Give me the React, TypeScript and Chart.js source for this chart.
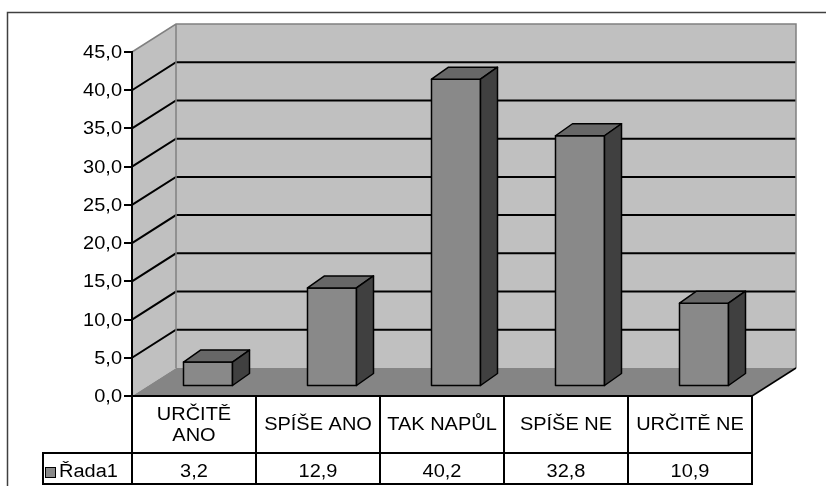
import React, { useEffect, useRef } from "react";
import { Chart, registerables } from "chart.js";

Chart.register(...registerables);

// ---- data ----
const categories: string[][] = [["URČITĚ", "ANO"], ["SPÍŠE ANO"], ["TAK NAPŮL"], ["SPÍŠE NE"], ["URČITĚ NE"]];
const values: number[] = [3.2, 12.9, 40.2, 32.8, 10.9];
const seriesName = "Řada1";
const yMin = 0;
const yMax = 45;
const yStep = 5;

// ---- style / layout ----
const W = 826;
const H = 486;
const DEPTH_X = 44;
const DEPTH_Y = -28;
const BAR_FRONT_X = 14;
const BAR_FRONT_Y = -9.5;
const BAR_DX = 17;
const BAR_DY = -12;
const FONT = '18px "Liberation Sans", Arial, sans-serif';
const STRETCH = 1.11;

const fmt = (v: number) => v.toFixed(1).replace(".", ",");

function drawText(ctx: CanvasRenderingContext2D, s: string, x: number, y: number, align: CanvasTextAlign) {
  ctx.save();
  ctx.translate(x, y);
  ctx.scale(STRETCH, 1);
  ctx.font = FONT;
  ctx.fillStyle = "#000";
  ctx.textAlign = align;
  ctx.textBaseline = "alphabetic";
  ctx.fillText(s, 0, 0);
  ctx.restore();
}

function poly(ctx: CanvasRenderingContext2D, pts: number[][], fill: string) {
  ctx.beginPath();
  ctx.moveTo(pts[0][0], pts[0][1]);
  for (let i = 1; i < pts.length; i++) ctx.lineTo(pts[i][0], pts[i][1]);
  ctx.closePath();
  ctx.fillStyle = fill;
  ctx.fill();
  ctx.stroke();
}

const excel3d = {
  id: "excel3d",
  beforeDraw(chart: any) {
    const ctx: CanvasRenderingContext2D = chart.ctx;
    const { left, right, top, bottom } = chart.chartArea;
    const ys = chart.scales.y;
    ctx.save();
    ctx.fillStyle = "#fff";
    ctx.fillRect(0, 0, W, H);
    ctx.strokeStyle = "#404040";
    ctx.lineWidth = 1.5;
    ctx.strokeRect(7.5, 12.5, W + 20, H + 20);

    const bx0 = left + DEPTH_X, bx1 = right + DEPTH_X, by0 = top + DEPTH_Y, by1 = bottom + DEPTH_Y;
    ctx.fillStyle = "#c0c0c0";
    ctx.fillRect(bx0, by0, bx1 - bx0, by1 - by0);
    ctx.beginPath();
    ctx.moveTo(left, top);
    ctx.lineTo(bx0, by0);
    ctx.lineTo(bx0, by1);
    ctx.lineTo(left, bottom);
    ctx.closePath();
    ctx.fill();

    ctx.fillStyle = "#858585";
    ctx.beginPath();
    ctx.moveTo(left, bottom);
    ctx.lineTo(bx0, by1);
    ctx.lineTo(bx1, by1);
    ctx.lineTo(right, bottom);
    ctx.closePath();
    ctx.fill();

    ctx.strokeStyle = "#000";
    ctx.lineWidth = 2;
    ys.ticks.forEach((t: any) => {
      if (t.value <= yMin || t.value >= yMax) return;
      const py = ys.getPixelForValue(t.value);
      ctx.beginPath();
      ctx.moveTo(left, py);
      ctx.lineTo(bx0, py + DEPTH_Y);
      ctx.lineTo(bx1, py + DEPTH_Y);
      ctx.stroke();
    });

    ctx.strokeStyle = "#808080";
    ctx.lineWidth = 1.5;
    ctx.beginPath();
    ctx.moveTo(left, top);
    ctx.lineTo(bx0, by0);
    ctx.lineTo(bx1, by0);
    ctx.lineTo(bx1, by1);
    ctx.moveTo(bx0, by0);
    ctx.lineTo(bx0, by1);
    ctx.stroke();

    ctx.strokeStyle = "#000";
    ctx.beginPath();
    ctx.moveTo(bx1, by1);
    ctx.lineTo(right, bottom);
    ctx.stroke();
    ctx.restore();
  },
  afterDatasetsDraw(chart: any) {
    const ctx: CanvasRenderingContext2D = chart.ctx;
    const meta = chart.getDatasetMeta(0);
    ctx.save();
    ctx.lineWidth = 1.5;
    ctx.strokeStyle = "#000";
    ctx.lineJoin = "round";
    meta.data.forEach((el: any) => {
      const { x, y, base, width } = el.getProps(["x", "y", "base", "width"], true);
      const L = x - width / 2 + BAR_FRONT_X;
      const R = x + width / 2 + BAR_FRONT_X;
      const T = y + BAR_FRONT_Y;
      const B = base + BAR_FRONT_Y;
      poly(ctx, [[L, T], [R, T], [R, B], [L, B]], "#898989");
      poly(ctx, [[L, T], [L + BAR_DX, T + BAR_DY], [R + BAR_DX, T + BAR_DY], [R, T]], "#676767");
      poly(ctx, [[R, T], [R + BAR_DX, T + BAR_DY], [R + BAR_DX, B + BAR_DY], [R, B]], "#404040");
    });
    ctx.restore();
  },
  afterDraw(chart: any) {
    const ctx: CanvasRenderingContext2D = chart.ctx;
    const { left, right, bottom } = chart.chartArea;
    const xs = chart.scales.x;
    const ys = chart.scales.y;
    const n = categories.length;
    const cw = (right - left) / n;
    const r1 = bottom + 57;
    const r2 = bottom + 88;
    const legendLeft = 43;
    ctx.save();
    ctx.strokeStyle = "#000";
    ctx.lineWidth = 2;
    ctx.beginPath();
    ctx.moveTo(left, bottom);
    ctx.lineTo(right, bottom);
    ctx.moveTo(legendLeft, r1);
    ctx.lineTo(right, r1);
    ctx.moveTo(legendLeft, r2);
    ctx.lineTo(right + 1, r2);
    ctx.moveTo(legendLeft, r1 - 1);
    ctx.lineTo(legendLeft, r2 + 1);
    for (let i = 0; i <= n; i++) {
      const bx = i < n ? xs.getPixelForValue(i) - cw / 2 : xs.getPixelForValue(n - 1) + cw / 2;
      ctx.moveTo(bx, bottom - 1);
      ctx.lineTo(bx, r2);
    }
    ctx.stroke();

    categories.forEach((lines, i) => {
      const cx = xs.getPixelForValue(i);
      if (lines.length === 1) {
        drawText(ctx, lines[0], cx, bottom + 34, "center");
      } else {
        lines.forEach((ln, j) => drawText(ctx, ln, cx, bottom + 24 + j * 21, "center"));
      }
      drawText(ctx, fmt(values[i]), cx, r1 + 24, "center");
    });

    ctx.fillStyle = "#898989";
    ctx.fillRect(45.5, 467.5, 10, 10);
    ctx.lineWidth = 1;
    ctx.strokeRect(45.5, 467.5, 10, 10);
    drawText(ctx, seriesName, 59, r1 + 24, "left");

    ys.ticks.forEach((t: any) => {
      const py = ys.getPixelForValue(t.value);
      drawText(ctx, fmt(t.value), left - 10, py + 6, "right");
    });
    ctx.restore();
  },
};

export default function App() {
  const ref = useRef<HTMLCanvasElement>(null);
  useEffect(() => {
    if (!ref.current) return;
    const chart = new Chart(ref.current, {
      type: "bar",
      data: {
        labels: categories.map((c) => c.join(" ")),
        datasets: [
          {
            label: seriesName,
            data: values,
            backgroundColor: "rgba(0,0,0,0)",
            borderWidth: 0,
            barPercentage: 0.8,
            categoryPercentage: 0.494,
          },
        ],
      },
      options: {
        animation: false,
        responsive: false,
        layout: { padding: { left: 0, top: 52, right: W - 752, bottom: H - 396 } },
        plugins: { legend: { display: false }, tooltip: { enabled: false } },
        scales: {
          x: { display: false },
          y: {
            min: yMin,
            max: yMax,
            ticks: { stepSize: yStep, color: "rgba(0,0,0,0)", font: { size: 17 } },
            grid: { drawOnChartArea: false, drawTicks: true, tickLength: 8, color: "#000", lineWidth: 2 },
            border: { color: "#000", width: 2 },
            afterFit: (s: any) => {
              s.width = 132;
            },
          },
        },
      },
      plugins: [excel3d],
    } as any);
    return () => chart.destroy();
  }, []);
  return (
    <canvas
      ref={ref}
      width={W}
      height={H}
      style={{ position: "fixed", left: 0, top: 0, width: W, height: H, display: "block" }}
    />
  );
}
